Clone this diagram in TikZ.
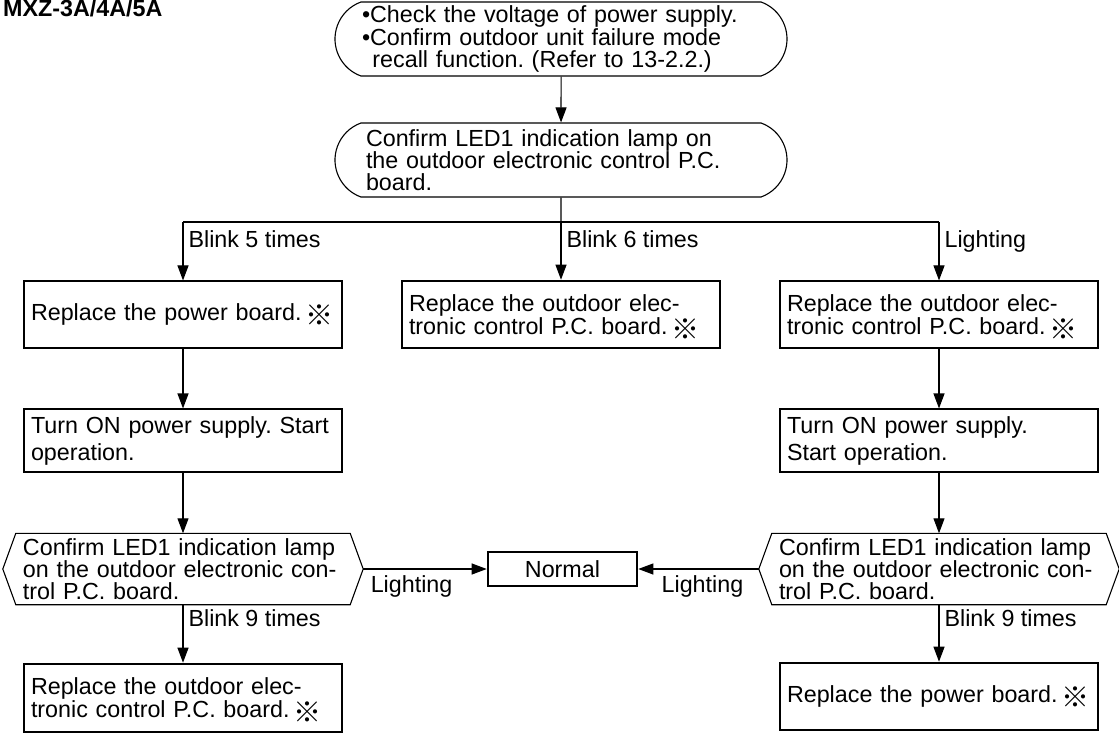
\documentclass[tikz,border=0pt]{standalone}
\usepackage{fontspec}
\setmainfont{Liberation Sans}
\newfontfamily\cjkfont{Noto Sans CJK JP}
\usetikzlibrary{positioning, arrows.meta, shapes.misc}
\newcommand{\kome}{\hspace{4pt}\smash{\raisebox{-5pt}{\cjkfont\fontsize{28}{28}\selectfont ※}}}
\frenchspacing

\begin{document}
\begin{tikzpicture}[x=1pt, y=-1pt,
    every node/.style={font=\fontsize{23.3}{21.5}\selectfont},
    thinline/.style={line width=1.1pt},
    arr/.style={thinline, -{Triangle[length=15pt, width=11pt]}},
    term/.style={draw, thinline, rounded rectangle, rounded rectangle arc length=140, minimum width=452pt, minimum height=74pt, inner xsep=0pt, align=left},
    box/.style={draw, thinline, minimum width=318pt, text width=304pt, inner xsep=7pt, align=left},
    boldbox/.style={box, line width=2.6pt},
    hexa/.style={minimum width=334pt, minimum height=71pt, text width=320pt, inner xsep=7pt, align=left},
    lbl/.style={anchor=base west, inner sep=0pt, xshift=5pt}]
  \useasboundingbox (0,0) rectangle (1119,735);
  \node[font=\fontsize{23.3}{21.5}\selectfont\bfseries, anchor=base west, inner sep=0pt] (title) at (3,17) {MXZ-3A/4A/5A};
  % start
  \node[term, text width=398pt] (check) at (561,39) {•Check the voltage of power supply.\\•Confirm outdoor unit failure mode\\\hspace*{0.45em}recall function. (Refer to 13-2.2.)};
  \node[term, text width=390pt] (led) at (561,160) {Confirm LED1 indication lamp on\\the outdoor electronic control P.C.\\board.};
  \coordinate (split) at (561,222);
  \coordinate (splitL) at (183,222);
  \coordinate (splitR) at (939,222);
  % first row
  \node[box, minimum height=67pt] (powerL) at (183,314.5) {Replace the power board.\kome};
  \node[boldbox, minimum height=67pt] (pcbM) at (561,314.5) {Replace the outdoor elec-\\tronic control P.C. board.\kome};
  \node[box, minimum height=67pt] (pcbR) at (939,314.5) {Replace the outdoor elec-\\tronic control P.C. board.\kome};
  % power on
  \node[box, minimum height=63pt, font=\fontsize{23.3}{27}\selectfont] (turnL) at (183,440.5) {Turn ON power supply. Start\\operation.};
  \node[box, minimum height=63pt, font=\fontsize{23.3}{27}\selectfont] (turnR) at (939,440.5) {Turn ON power supply.\\Start operation.};
  % checks
  \node[hexa] (hexL) at (183,569) {Confirm LED1 indication lamp\\on the outdoor electronic con-\\trol P.C. board.};
  \node[hexa] (hexR) at (939,569) {Confirm LED1 indication lamp\\on the outdoor electronic con-\\trol P.C. board.};
  \draw[thinline] (hexL.north west) -- (hexL.north east) -- ([xshift=13pt]hexL.east) -- (hexL.south east) -- (hexL.south west) -- ([xshift=-13pt]hexL.west) -- cycle;
  \draw[thinline] (hexR.north west) -- (hexR.north east) -- ([xshift=13pt]hexR.east) -- (hexR.south east) -- (hexR.south west) -- ([xshift=-13pt]hexR.west) -- cycle;
  \coordinate (tipL) at ([xshift=13pt]hexL.east);
  \coordinate (tipR) at ([xshift=-13pt]hexR.west);
  \node[draw, line width=2.6pt, minimum width=149pt, minimum height=34pt] (normal) at (562.5,569) {Normal};
  % last row
  \node[boldbox, minimum height=68pt] (replL) at (183,698) {Replace the outdoor elec-\\tronic control P.C. board.\kome};
  \node[boldbox, minimum height=67pt] (replR) at (939,696.5) {Replace the power board.\kome};
  % connectors
  \draw[arr] (check) -- (led);
  \draw[thinline] (led) -- (split);
  \draw[thinline] (splitL) -- (splitR);
  \draw[arr] (splitL) -- (powerL) node[lbl, pos=.44] {Blink 5 times};
  \draw[arr] (split) -- (pcbM) node[lbl, pos=.44] {Blink 6 times};
  \draw[arr] (splitR) -- (pcbR) node[lbl, pos=.44] {Lighting};
  \draw[arr] (powerL) -- (turnL);
  \draw[arr] (pcbR) -- (turnR);
  \draw[arr] (turnL) -- (hexL);
  \draw[arr] (turnR) -- (hexR);
  \draw[arr] (hexL) -- (replL) node[lbl, pos=.38] {Blink 9 times};
  \draw[arr] (hexR) -- (replR) node[lbl, pos=.38] {Blink 9 times};
  \draw[arr] (tipL) -- (normal) node[pos=0, anchor=base west, inner sep=0pt, xshift=7pt, yshift=-23pt] {Lighting};
  \draw[arr] (tipR) -- (normal) node[pos=0, anchor=base east, inner sep=0pt, xshift=-15pt, yshift=-23pt] {Lighting};
\end{tikzpicture}
\end{document}
